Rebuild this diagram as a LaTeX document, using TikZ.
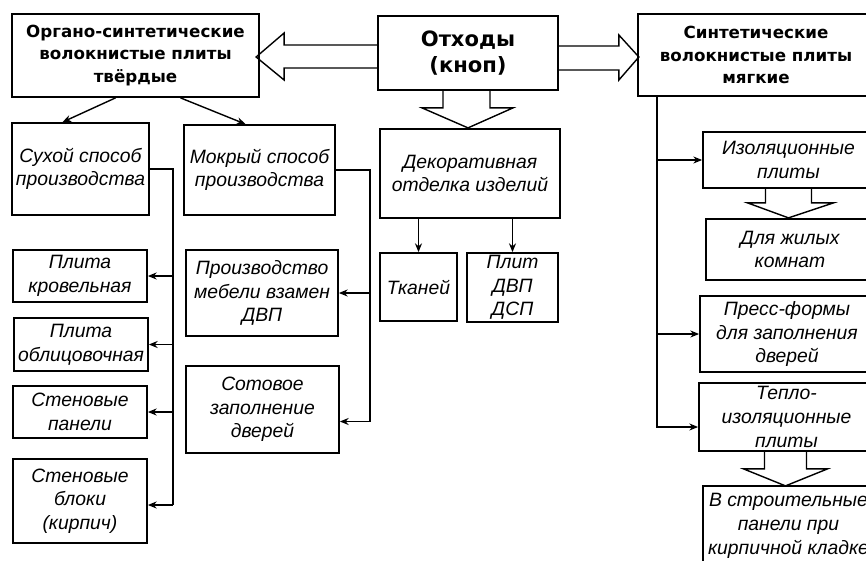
\documentclass[tikz,border=0pt]{standalone}
\usepackage{fontspec}
\setmainfont{Liberation Sans}
\newfontfamily\hdrfont{DejaVu Sans}
\usetikzlibrary{calc, arrows.meta}
\pgfdeclarelayer{bg}
\pgfsetlayers{bg,main}
\tikzset{
	box/.style={draw, line width=1pt, inner sep=0pt, align=center},
	corners/.style n args={4}{minimum width={(#3-#1)*0.02cm}, minimum height={(#4-#2)*0.02cm}, at={({(#1+#3)/2},{(#2+#4)/2})}},
	txt/.style={font=\fontsize{11}{13.5}\selectfont\itshape},
	hdr/.style={font=\hdrfont\bfseries\fontsize{9.5}{13}\selectfont},
	bighdr/.style={font=\hdrfont\bfseries\fontsize{12}{15}\selectfont},
	arr/.style={-{Stealth[length=5pt, width=4pt]}, line width=0.8pt},
	hollow/.style={line width=0.8pt, fill=white}
}

\begin{document}
\begin{tikzpicture}[x=0.02cm, y=-0.02cm]
	\useasboundingbox (0,0) rectangle (866,561);

% top row
	\node[box, hdr, corners={12}{14}{259}{97}] (organo) {Органо-синтетические\\волокнистые плиты\\твёрдые};
	\node[box, bighdr, corners={378}{16}{558}{90}] (otkhody) {Отходы\\(кноп)};
	\node[box, hdr, corners={638}{14}{874}{96}] (sintet) {Синтетические\\волокнистые плиты\\мягкие};

% left boxs
	\node[box, txt, corners={12}{123}{149}{215}] (sukhoy) {Сухой способ\\производства};
	\node[box, txt, corners={13}{250}{147}{302}] (krov) {Плита\\кровельная};
	\node[box, txt, corners={14}{318}{148}{371}] (oblic) {Плита\\облицовочная};
	\node[box, txt, corners={13}{386}{147}{438}] (panel) {Стеновые\\панели};
	\node[box, txt, corners={13}{459}{147}{543}] (bloki) {Стеновые\\блоки\\(кирпич)};

	\node[box, txt, corners={184}{125}{335}{215}] (mokry) {Мокрый способ\\производства};
	\node[box, txt, corners={186}{250}{338}{336}] (mebel) {Производство\\мебели взамен\\ДВП};
	\node[box, txt, corners={186}{366}{339}{453}] (sotov) {Сотовое\\заполнение\\дверей};

% middle boxs
	\node[box, txt, corners={380}{129}{560}{218}] (dekor) {Декоративная\\отделка изделий};
	\node[box, txt, corners={380}{253}{457}{321}] (tkan) {Тканей};
	\node[box, txt, corners={467}{253}{558}{322}] (plit) {Плит\\ДВП\\ДСП};

% right boxs
	\node[box, txt, corners={703}{132}{874}{188}] (izol) {Изоляционные\\плиты};
	\node[box, txt, corners={706}{219}{874}{280}] (zhil) {Для жилых\\комнат};
	\node[box, txt, corners={700}{296}{874}{372}] (press) {Пресс-формы\\для заполнения\\дверей};
	\node[box, txt, corners={699}{383}{874}{451}] (teplo) {Тепло-\\изоляционные\\плиты};
	\node[box, txt, corners={703}{486}{874}{566}] (stroy) {В строительные\\панели при\\кирпичной кладке};

% hollow arrows
	\begin{pgfonlayer}{bg}
	\draw[hollow] ($(otkhody.west)+(0,-8)$) -- ++(-93,0) -- ++(0,-12) -- ++(-28,24) -- ++(28,23) -- ++(0,-12) -- ++(93,0);
	\draw[hollow] ($(otkhody.east)+(0,-7)$) -- ++(60,0) -- ++(0,-11) -- ++(20,22) -- ++(-20,23) -- ++(0,-10) -- ++(-60,0);
	\draw[hollow] ($(otkhody.south)+(-25,0)$) -- ++(0,17) -- ++(-21,0) -- ++(46,20) -- ++(45,-20) -- ++(-23,0) -- ++(0,-17);
	\draw[hollow] ($(izol.south)+(-23,0)$) -- ++(0,14) -- ++(-18,0) -- ++(41,15) -- ++(45,-15) -- ++(-22,0) -- ++(0,-14);
	\draw[hollow] ($(teplo.south)+(-22,0)$) -- ++(0,17) -- ++(-21,0) -- ++(42,17) -- ++(42,-17) -- ++(-21,0) -- ++(0,-17);
	\end{pgfonlayer}

% links
	\draw[arr] ($(organo.south)+(-20,0)$) -- ($(sukhoy.north)+(-18,0)$);
	\draw[arr] ($(organo.south)+(45,0)$) -- ($(mokry.north)+(-14,0)$);

	%dry
	\draw[line width=0.8pt] (sukhoy.east) -- ++(23,0) coordinate (dry) -- ($(dry |- bloki.east)+(0,4)$);
	\foreach \n in {krov, oblic, panel} \draw[arr] (dry |- \n.east) -- (\n.east);
	\draw[arr] ($(dry |- bloki.east)+(0,4)$) -- ($(bloki.east)+(0,4)$);

	%wet
	\draw[arr] (mokry.east) -- ++(34,0) coordinate (wet) |- ($(sotov.east)+(0,12)$);
	\draw[arr] (wet |- mebel.east) -- (mebel.east);

	%decor
	\draw[arr] (tkan.north |- dekor.south) -- (tkan.north);
	\draw[arr] (plit.north |- dekor.south) -- (plit.north);

	%soft
	\draw[arr] ($(sintet.south west)+(20,0)$) coordinate (soft) |- ($(teplo.west)+(0,10)$);
	\foreach \n in {izol, press} \draw[arr] (soft |- \n.west) -- (\n.west);

\end{tikzpicture}
\end{document}
